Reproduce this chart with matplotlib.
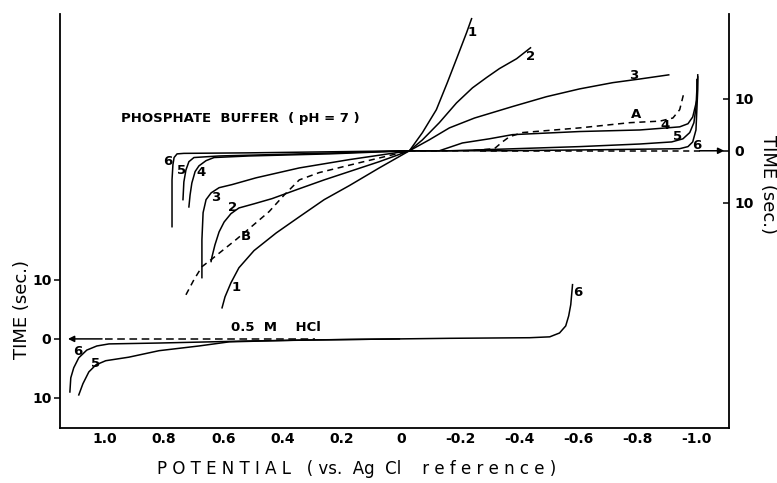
import matplotlib
matplotlib.use("Agg")
import matplotlib.pyplot as plt

# Phosphate buffer (pH 7) curves: potential (V vs. AgCl) and time (sec), right-hand scale
c1_E = [0.604, 0.594, 0.574, 0.547, 0.496, 0.421, 0.343, 0.259, 0.174, 0.073, -0.029,
        -0.073, -0.120, -0.157, -0.191, -0.222, -0.239]
c1_t = [-30.2, -28.1, -25.4, -22.5, -19.2, -15.8, -12.7, -9.4, -6.7, -3.3, 0.0,
        3.5, 7.9, 13.1, 18.1, 22.7, 25.4]

c2_E = [0.641, 0.638, 0.628, 0.614, 0.597, 0.574, 0.547, 0.496, 0.435, 0.343, 0.259, 0.174, 0.073,
        -0.029, -0.073, -0.130, -0.188, -0.242, -0.290, -0.333, -0.391, -0.438]
c2_t = [-21.3, -20.4, -18.1, -15.6, -13.7, -12.1, -11.0, -10.2, -9.2, -7.3, -5.6, -4.0, -2.1,
        0.0, 2.1, 5.4, 9.2, 12.1, 14.1, 15.8, 17.7, 19.8]

c3_E = [0.672, 0.672, 0.668, 0.658, 0.641, 0.614, 0.570, 0.489, 0.343, 0.174,
        -0.029, -0.096, -0.164, -0.249, -0.377, -0.492, -0.604, -0.716, -0.807, -0.905]
c3_t = [-24.4, -17.1, -11.9, -9.4, -8.1, -7.1, -6.5, -5.2, -3.3, -1.7,
        0.0, 2.1, 4.4, 6.3, 8.5, 10.4, 11.9, 13.1, 13.8, 14.6]

c4_E = [0.716, 0.712, 0.706, 0.695, 0.682, 0.658, 0.631, 0.513, 0.242,
        -0.029, -0.130, -0.208, -0.299, -0.377, -0.604, -0.807, -0.898, -0.942,
        -0.970, -0.986, -1.000, -1.003]
c4_t = [-10.8, -8.5, -6.2, -4.0, -2.9, -1.9, -1.3, -1.0, -0.6,
        0.0, 0.0, 1.5, 2.3, 3.1, 3.7, 4.0, 4.4, 4.6,
        5.2, 6.5, 9.8, 14.2]

c5_E = [0.736, 0.733, 0.726, 0.716, 0.699, 0.614, 0.343,
        -0.029, -0.164, -0.333, -0.604, -0.807, -0.915, -0.953,
        -0.976, -0.990, -0.997, -1.000, -1.000]
c5_t = [-9.4, -6.0, -3.7, -2.1, -1.3, -1.0, -0.6,
        0.0, 0.0, 0.3, 0.8, 1.3, 1.7, 2.3,
        3.5, 5.4, 8.3, 11.7, 13.7]

c6_E = [0.773, 0.773, 0.770, 0.766, 0.756, 0.733, 0.513,
        -0.029, -0.333, -0.672, -0.942, -0.970, -0.986, -0.997, -1.000, -1.003, -1.003]
c6_t = [-14.6, -5.6, -2.7, -1.3, -0.6, -0.5, -0.4,
        0.0, 0.0, 0.2, 0.4, 0.8, 1.7, 4.0, 7.9, 11.7, 14.6]

# dashed reference curves A and B
a_E = [-0.029, -0.232, -0.316, -0.343, -0.367, -0.411, -0.604, -0.773, -0.875,
       -0.919, -0.942, -0.953, -0.957]
a_t = [0.0, 0.0, 0.4, 1.7, 2.7, 3.5, 4.4, 5.4, 5.7,
       6.3, 7.9, 10.4, 11.3]

b_E = [0.726, 0.699, 0.672, 0.638, 0.557, 0.513, 0.445, 0.394, 0.343, 0.276, 0.140, -0.029]
b_t = [-27.7, -24.8, -22.3, -20.8, -17.1, -15.0, -11.7, -8.5, -5.6, -4.2, -2.3, 0.0]

# 0.5 M HCl curves, left-hand scale
h6_E = [1.118, 1.115, 1.105, 1.088, 1.061, 1.027, 0.986, 0.817, 0.513, 0.174,
        -0.164, -0.435, -0.503, -0.536, -0.557, -0.567, -0.574, -0.580]
h6_t = [-9.0, -6.6, -4.9, -3.2, -1.9, -1.2, -0.85, -0.7, -0.35, -0.1,
        0.1, 0.2, 0.35, 1.0, 2.2, 3.9, 5.8, 9.2]

h5_E = [1.088, 1.074, 1.054, 1.030, 0.997, 0.919, 0.817, 0.682, 0.580, 0.343, 0.005]
h5_t = [-9.5, -7.6, -5.6, -4.4, -3.7, -3.1, -2.0, -1.2, -0.5, -0.2, 0.0]

x_ticks = [1.0, 0.8, 0.6, 0.4, 0.2, 0.0, -0.2, -0.4, -0.6, -0.8, -1.0]
x_labels = ["1.0", "0.8", "0.6", "0.4", "0.2", "0", "-0.2", "-0.4", "-0.6", "-0.8", "-1.0"]
y_ticks = [-10, 0, 10]
y_labels = ["10", "0", "10"]

fig = plt.figure(figsize=(7.77, 4.83), dpi=100)
ax = fig.add_axes([0.077, 0.114, 0.861, 0.857])
ax2 = ax.twinx()

ax.set_xlim(1.152, -1.108)
ax.set_ylim(-15.1, 55.1)
ax2.set_ylim(-53.3, 26.3)

lw = 1.1
k = "black"
for E, t in [(c1_E, c1_t), (c2_E, c2_t), (c3_E, c3_t), (c4_E, c4_t), (c5_E, c5_t), (c6_E, c6_t)]:
    ax2.plot(E, t, color=k, lw=lw)
ax2.plot(a_E, a_t, color=k, lw=lw, ls=(0, (4, 3)))
ax2.plot(b_E, b_t, color=k, lw=lw, ls=(0, (4, 3)))

# phosphate zero line with arrow to the right axis
ax2.plot([-0.266, -1.01], [0, 0], color=k, lw=lw, ls=(0, (4, 3)))
ax2.annotate("", xy=(-1.102, 0), xytext=(-1.0, 0),
             arrowprops=dict(arrowstyle="-|>", color=k, lw=lw, mutation_scale=9))

ax.plot(h6_E, h6_t, color=k, lw=lw)
ax.plot(h5_E, h5_t, color=k, lw=lw)
ax.plot([1.0, 0.29], [0, 0], color=k, lw=lw, ls=(0, (5, 3)))
ax.annotate("", xy=(1.134, 0), xytext=(1.0, 0),
            arrowprops=dict(arrowstyle="-|>", color=k, lw=lw, mutation_scale=9))

# curve labels
lab = dict(fontsize=9.5, fontweight="bold", ha="center", va="center")
for s, E, t in [("1", -0.242, 22.7), ("1", 0.557, -26.2),
                ("2", -0.438, 18.1), ("2", 0.570, -11.0),
                ("3", -0.786, 14.4), ("3", 0.624, -9.0),
                ("4", -0.892, 4.8), ("4", 0.676, -4.2),
                ("5", -0.936, 2.7), ("5", 0.740, -3.7),
                ("6", -1.0, 1.0), ("6", 0.786, -2.1),
                ("A", -0.796, 6.9), ("B", 0.523, -16.5)]:
    ax2.text(E, t, s, **lab)
for s, E, t in [("6", 1.091, -2.2), ("5", 1.030, -4.1), ("6", -0.597, 7.8)]:
    ax.text(E, t, s, **lab)

ax2.text(0.543, 6.3, "PHOSPHATE  BUFFER  ( pH = 7 )", fontsize=9.5,
         fontweight="bold", ha="center", va="center")
ax.text(0.421, 1.9, "0.5  M    HCl", fontsize=9.5, fontweight="bold",
        ha="center", va="center")

ax.set_xticks(x_ticks)
ax.set_xticklabels(x_labels, fontsize=10, fontweight="bold")
ax.tick_params(axis="x", length=0, pad=3)
ax.set_yticks(y_ticks)
ax.set_yticklabels(y_labels, fontsize=10, fontweight="bold")
ax.tick_params(axis="y", length=4, width=1.1, pad=2)
ax2.set_yticks(y_ticks)
ax2.set_yticklabels(y_labels, fontsize=10, fontweight="bold")
ax2.tick_params(axis="y", direction="in", length=4, width=1.1, pad=4)

for a in (ax, ax2):
    a.spines["top"].set_visible(False)
    for sp in a.spines.values():
        sp.set_linewidth(1.3)
ax.spines["right"].set_visible(False)
ax2.spines["left"].set_visible(False)
ax2.spines["bottom"].set_visible(False)

ax.set_xlabel("P O T E N T I A L   ( vs.  Ag  Cl    r e f e r e n c e )", fontsize=12, va="center")
ax.xaxis.set_label_coords(0.443, -0.098)
ax.set_ylabel("TIME (sec.)", fontsize=13, va="center")
ax.yaxis.set_label_coords(-0.056, 0.285)
ax2.set_ylabel("TIME (sec.)", fontsize=13, rotation=270, va="center")
ax2.yaxis.set_label_coords(1.058, 0.587)

fig.savefig("out.png", dpi=100)
